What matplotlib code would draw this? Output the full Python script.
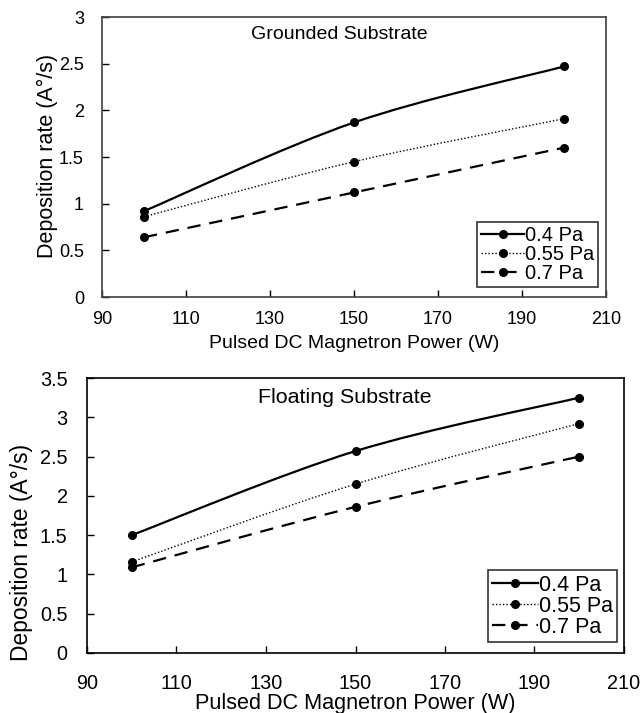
import matplotlib
matplotlib.use("Agg")
import matplotlib.pyplot as plt
from matplotlib.path import Path
from matplotlib.patches import PathPatch
from matplotlib.lines import Line2D
import numpy as np

plt.rcParams['font.family'] = ['Liberation Sans', 'DejaVu Sans']

power = [100, 150, 200]
labels = ['0.4 Pa', '0.55 Pa', '0.7 Pa']

grounded_04 = [0.92, 1.87, 2.47]
grounded_055 = [0.86, 1.45, 1.91]
grounded_07 = [0.64, 1.12, 1.60]

floating_04 = [1.50, 2.57, 3.25]
floating_055 = [1.16, 2.15, 2.92]
floating_07 = [1.09, 1.86, 2.50]

styles = [
    dict(linestyle='-', linewidth=1.6),
    dict(linestyle=(0, (1, 1.5)), linewidth=1.0),
    dict(linestyle=(0, (6, 4)), linewidth=1.6),
]


def smooth_path(x, y):
    # excel-like smoothed line: cubic bezier segments through the points
    x = np.asarray(x, float)
    y = np.asarray(y, float)
    n = len(x)
    verts = [(x[0], y[0])]
    codes = [Path.MOVETO]
    for i in range(n - 1):
        p0 = np.array([x[max(i - 1, 0)], y[max(i - 1, 0)]])
        p1 = np.array([x[i], y[i]])
        p2 = np.array([x[i + 1], y[i + 1]])
        p3 = np.array([x[min(i + 2, n - 1)], y[min(i + 2, n - 1)]])
        c1 = p1 + (p2 - p0) / 6.0
        c2 = p2 - (p3 - p1) / 6.0
        verts += [tuple(c1), tuple(c2), tuple(p2)]
        codes += [Path.CURVE4] * 3
    return Path(verts, codes)


def panel(ax, series, ymax, title, sizes, spine_col, title_xy, leg_anchor,
          ylab_xy, pads, xlpad):
    fs_tick, fs_xl, fs_yl, fs_title, fs_leg = sizes
    for ys, st in zip(series, styles):
        ax.add_patch(PathPatch(smooth_path(power, ys), fill=False,
                               edgecolor='black', capstyle='butt', **st))
        ax.plot(power, ys, 'o', color='black', markersize=5.5, zorder=3)
    ax.set_xlim(90, 210)
    ax.set_ylim(0, ymax)
    ax.set_xticks(np.arange(90, 211, 20))
    ax.set_yticks(np.arange(0, ymax + 0.01, 0.5))
    ax.set_yticklabels(['%g' % v for v in np.arange(0, ymax + 0.01, 0.5)])
    ax.tick_params(direction='in', length=5, width=1, labelsize=fs_tick,
                   colors='black')
    ax.tick_params(axis='x', pad=pads[0])
    ax.tick_params(axis='y', pad=pads[1])
    for s in ax.spines.values():
        s.set_color(spine_col)
        s.set_linewidth(1.2)
    ax.set_xlabel('Pulsed DC Magnetron Power (W)', fontsize=fs_xl, labelpad=xlpad)
    ax.set_ylabel('Deposition rate (A\u00b0/s)', fontsize=fs_yl)
    ax.yaxis.set_label_coords(ylab_xy[0], ylab_xy[1])
    ax.text(title_xy[0], title_xy[1], title, transform=ax.transAxes,
            ha='center', va='center', fontsize=fs_title)
    handles = [Line2D([], [], color='black', marker='o', markersize=5.5, **st)
               for st in styles]
    leg = ax.legend(handles, labels, loc='lower right', bbox_to_anchor=leg_anchor,
                    fontsize=fs_leg, frameon=True, fancybox=False, numpoints=1,
                    handlelength=2.1, handletextpad=0.05, borderpad=0.2,
                    labelspacing=0.0, borderaxespad=0)
    leg.get_frame().set_edgecolor('black')
    leg.get_frame().set_linewidth(1.2)


fig = plt.figure(figsize=(6.43, 7.13), dpi=100)
W, H = 643.0, 713.0
ax1 = fig.add_axes([102 / W, 1 - 297 / H, (606 - 102) / W, (297 - 17) / H])
ax2 = fig.add_axes([87 / W, 1 - 653 / H, (624 - 87) / W, (653 - 378) / H])

panel(ax1, [grounded_04, grounded_055, grounded_07], 3, 'Grounded Substrate',
      (13, 14, 15.5, 14, 14.5), '#404040', (0.47, 0.936), (0.984, 0.036),
      (-0.087, 0.504), (10, 13), 5)
panel(ax2, [floating_04, floating_055, floating_07], 3.5, 'Floating Substrate',
      (14.3, 15.6, 16.4, 15.4, 15.5), 'black', (0.48, 0.93), (0.987, 0.04),
      (-0.1, 0.364), (15, 14), 0)

fig.savefig('out.png', dpi=100)
